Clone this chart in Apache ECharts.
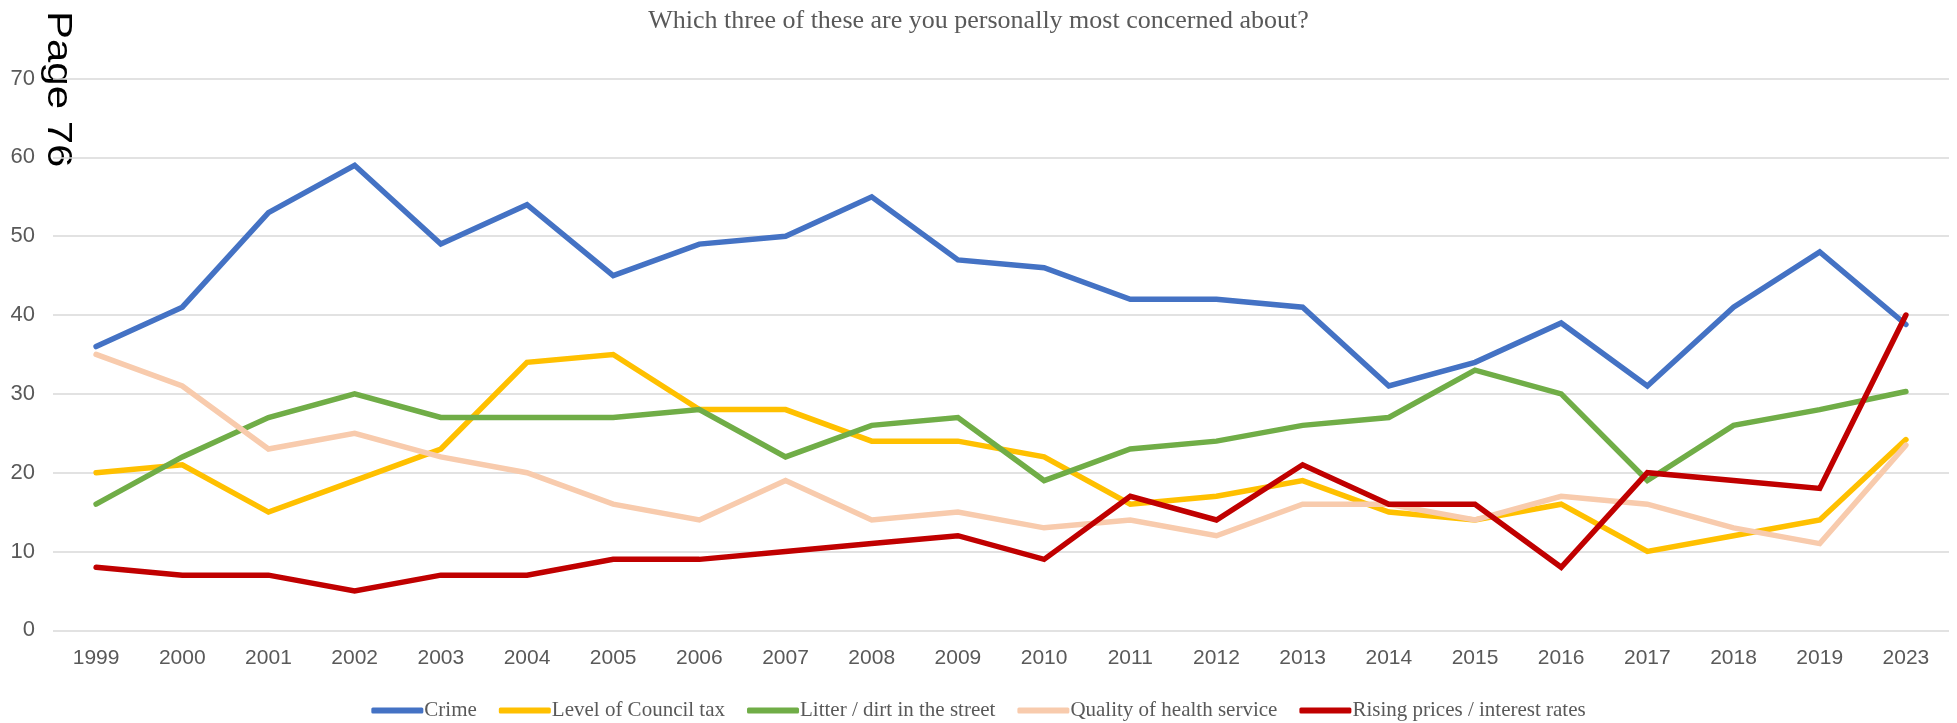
<!DOCTYPE html>
<html>
<head>
<meta charset="utf-8">
<script src="https://cdn.jsdelivr.net/npm/echarts@6/dist/echarts.min.js"></script>
<style>
html,body{margin:0;padding:0;background:#fff;}
#chart{width:1957px;height:723px;}
</style>
</head>
<body>
<div id="chart"></div>
<script>
const years = ['1999','2000','2001','2002','2003','2004','2005','2006','2007','2008','2009','2010','2011','2012','2013','2014','2015','2016','2017','2018','2019','2023'];
const crime = [36,41,53,59,49,54,45,49,50,55,47,46,42,42,41,31,34,39,31,41,48,38.8];
const councilTax = [20,21,15,19,23,34,35,28,28,24,24,22,16,17,19,15,14,16,10,12,14,24.2];
const litter = [16,22,27,30,27,27,27,28,22,26,27,19,23,24,26,27,33,30,19,26,28,30.3];
const health = [35,31,23,25,22,20,16,14,19,14,15,13,14,12,16,16,14,17,16,13,11,23.5];
const prices = [8,7,7,5,7,7,9,9,10,11,12,9,17,14,21,16,16,8,20,19,18,40];
const seriesNames = ['Crime','Level of Council tax','Litter / dirt in the street','Quality of health service','Rising prices / interest rates'];
const seriesColors = ['#4472C4','#FFC000','#70AD47','#F8CBAD','#C00000'];
const seriesData = [crime, councilTax, litter, health, prices];

const chart = echarts.init(document.getElementById('chart'));
chart.setOption({
  animation: false,
  backgroundColor: '#ffffff',
  title: {
    text: 'Which three of these are you personally most concerned about?',
    left: 'center',
    top: 3,
    textStyle: {fontFamily: 'Liberation Serif', fontSize: 26, fontWeight: 'normal', color: '#595959'}
  },
  legend: {
    bottom: -3,
    left: 'center',
    icon: 'roundRect',
    itemWidth: 52,
    itemHeight: 6,
    itemGap: 22,
    textStyle: {fontFamily: 'Liberation Serif', fontSize: 21, color: '#595959', padding: [0,0,0,-4]},
    data: seriesNames
  },
  grid: {left: 53, right: 8, top: 78.6, bottom: 92.7, containLabel: false},
  xAxis: {
    type: 'category',
    data: years,
    boundaryGap: true,
    axisLine: {show: false},
    axisTick: {show: false},
    axisLabel: {fontFamily: 'Liberation Sans', fontSize: 21, color: '#595959', margin: 17}
  },
  yAxis: {
    type: 'value',
    min: 0, max: 70, interval: 10,
    axisLine: {show: false},
    axisTick: {show: false},
    splitLine: {lineStyle: {color: '#D9D9D9', width: 1.5}},
    axisLabel: {fontFamily: 'Liberation Sans', fontSize: 22, color: '#595959', margin: 18}
  },
  series: seriesNames.map((n, i) => ({
    name: n,
    type: 'line',
    data: seriesData[i],
    symbol: 'none',
    color: seriesColors[i],
    lineStyle: {width: 5.5, color: seriesColors[i], cap: 'round', join: 'miter'}
  })),
  graphic: [{
    type: 'text',
    x: 58,
    y: 11,
    rotation: -Math.PI / 2,
    scaleX: 1.2,
    style: {text: 'Page 76', fontFamily: 'Liberation Sans', fontSize: 35, fill: '#000', textAlign: 'left', textVerticalAlign: 'middle'}
  }]
});
</script>
</body>
</html>
